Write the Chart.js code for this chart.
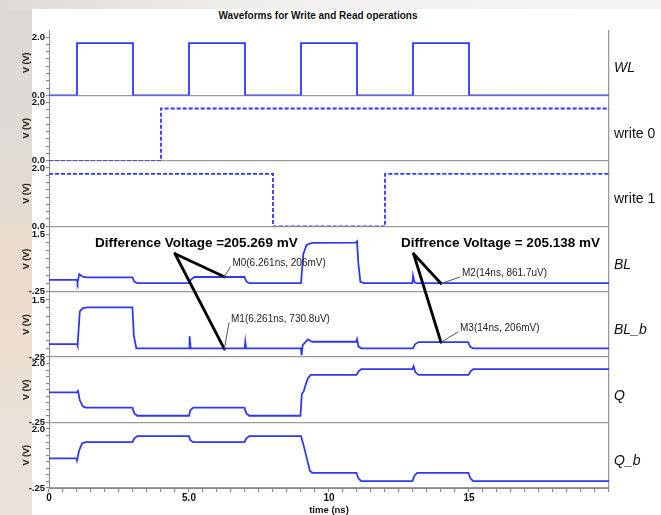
<!DOCTYPE html>
<html><head><meta charset="utf-8">
<script src="https://cdn.jsdelivr.net/npm/chart.js@4.4.0/dist/chart.umd.min.js"></script>
<style>
html,body{margin:0;padding:0;width:661px;height:515px;overflow:hidden;background:#fff;}
#bgL{position:absolute;left:0;top:0;width:32px;height:515px;background:linear-gradient(180deg,#dcd8d3 0%,#e0dbd5 30%,#eedbcb 55%,#ece0d5 75%,#e8e3dd 100%);}
#bgT{position:absolute;left:0;top:0;width:661px;height:9px;background:linear-gradient(90deg,#dedad6,#f1efed 40%,#f6f5f3 100%);}
#title{position:absolute;top:10px;left:318px;transform:translateX(-50%);font:bold 10px "Liberation Sans",Arial,sans-serif;white-space:nowrap;color:#111;}
canvas{position:absolute;left:0;top:0;}
</style></head><body>
<div id="bgL"></div><div id="bgT"></div>
<div id="title">Waveforms for Write and Read operations</div>
<canvas id="c" width="661" height="515"></canvas>
<script>
// ---- data ----
const xTickValues = [0, 5, 10, 15];
const xTickLabels = ['0', '5.0', '10', '15'];
const signalNames = ['WL', 'write 0', 'write 1', 'BL', 'BL_b', 'Q', 'Q_b'];

const wlT = [0, 1, 1, 3, 3, 5, 5, 7, 7, 9, 9, 11, 11, 13, 13, 15, 15, 20];
const wlV = [0, 0, 1.8, 1.8, 0, 0, 1.8, 1.8, 0, 0, 1.8, 1.8, 0, 0, 1.8, 1.8, 0, 0];

const write0T = [0, 4, 4, 20];
const write0V = [0, 0, 1.8, 1.8];

const write1T = [0, 8, 8, 12, 12, 20];
const write1V = [1.8, 1.8, 0, 0, 1.8, 1.8];

const blT = [0, 1.0, 1.02, 1.08, 1.2, 1.35, 2.98, 3.05, 3.15, 5.0, 5.08, 5.2, 6.98, 7.05, 7.15, 9.0, 9.08, 9.2, 9.4, 10.95, 11.0, 11.05, 11.12, 11.25, 12.98, 13.0, 13.05, 13.12, 20];
const blV = [0.11, 0.11, 0.04, 0.29, 0.21, 0.19, 0.19, 0.06, 0.01, 0.01, 0.13, 0.2, 0.2, 0.06, 0.01, 0.01, 0.9, 1.18, 1.24, 1.25, 1.29, 0.6, 0.05, 0.01, 0.01, 0.24, 0.05, 0.01, 0.01];

const blbT = [0, 1.0, 1.02, 1.1, 1.2, 1.35, 2.98, 3.03, 3.12, 5.0, 5.02, 5.06, 6.99, 7.01, 7.04, 9.0, 9.02, 9.06, 9.25, 9.4, 10.97, 11.0, 11.05, 11.15, 13.0, 13.08, 13.2, 14.97, 15.05, 15.15, 20];
const blbV = [0.15, 0.15, 0.1, 1.15, 1.24, 1.27, 1.27, 0.4, 0.02, 0.02, 0.39, 0.02, 0.02, 0.22, 0.02, 0.02, -0.19, 0.12, 0.29, 0.22, 0.22, 0.3, 0.08, 0.02, 0.02, 0.15, 0.21, 0.21, 0.06, 0.02, 0.02];

const qT = [0, 1.0, 1.03, 1.1, 1.2, 1.3, 2.98, 3.05, 3.15, 5.0, 5.05, 5.15, 6.98, 7.05, 7.15, 8.98, 9.03, 9.1, 9.15, 9.25, 9.35, 10.98, 11.05, 11.15, 12.98, 13.02, 13.08, 13.2, 14.98, 15.05, 15.15, 20];
const qV = [0.9, 0.9, 1.0, 0.6, 0.38, 0.32, 0.32, 0.1, 0.01, 0.01, 0.22, 0.32, 0.32, 0.1, 0.01, 0.01, 0.85, 0.95, 1.15, 1.45, 1.57, 1.57, 1.7, 1.79, 1.79, 1.9, 1.68, 1.57, 1.57, 1.7, 1.79, 1.79];

const qbT = [0, 0.98, 1.0, 1.08, 1.18, 1.3, 2.98, 3.05, 3.15, 5.0, 5.05, 5.15, 6.98, 7.05, 7.15, 9.0, 9.1, 9.25, 9.32, 9.4, 10.98, 11.05, 11.15, 12.98, 13.05, 13.15, 14.98, 15.05, 15.15, 20];
const qbV = [0.88, 0.88, 0.8, 1.2, 1.45, 1.5, 1.5, 1.65, 1.73, 1.73, 1.58, 1.5, 1.5, 1.65, 1.73, 1.73, 1.35, 0.7, 0.4, 0.33, 0.33, 0.12, 0.01, 0.01, 0.22, 0.33, 0.33, 0.12, 0.01, 0.01];

const logicTickValues = [0, 2];
const logicTickLabels = ['0.0', '2.0'];
const bitTickValues = [-0.25, 1.5];
const bitTickLabels = ['-.25', '1.5'];
const nodeTickValues = [-0.25, 2];
const nodeTickLabels = ['-.25', '2.0'];

const markerText = ['M0(6.261ns, 206mV)', 'M1(6.261ns, 730.8uV)', 'M2(14ns, 861.7uV)', 'M3(14ns, 206mV)'];
const markerT = [6.261, 6.261, 14, 14];
const markerV = [0.206, 0.0007308, 0.0008617, 0.206];
const markerAxis = ['yBL', 'yBLb', 'yBL', 'yBLb'];
const markerLabelT = [6.55, 6.5, 14.75, 14.68];
const markerLabelV = [0.63, 0.92, 0.32, 0.64];

const calloutText = ['Difference Voltage =205.269 mV', 'Diffrence Voltage = 205.138 mV'];
const calloutT = [1.64, 12.57];
const calloutV = [1.24, 1.24];
const calloutFromT = [4.5, 13.02];
const calloutFromV = [0.91, 0.91];
const calloutMarkers = [[0, 1], [2, 3]];

// ---- config ----
const FONT = '"Liberation Sans", Arial, sans-serif';
const panels = [
  {id: 'yWL', name: signalNames[0], t: wlT, v: wlV, min: 0, max: 2.25, tv: logicTickValues, tl: logicTickLabels, dash: [], italic: true},
  {id: 'yW0', name: signalNames[1], t: write0T, v: write0V, min: 0, max: 2.25, tv: logicTickValues, tl: logicTickLabels, dash: [4, 2], italic: false},
  {id: 'yW1', name: signalNames[2], t: write1T, v: write1V, min: 0, max: 2.25, tv: logicTickValues, tl: logicTickLabels, dash: [4, 2], italic: false},
  {id: 'yBL', name: signalNames[3], t: blT, v: blV, min: -0.25, max: 1.75, tv: bitTickValues, tl: bitTickLabels, dash: [], italic: true},
  {id: 'yBLb', name: signalNames[4], t: blbT, v: blbV, min: -0.25, max: 1.75, tv: bitTickValues, tl: bitTickLabels, dash: [], italic: true},
  {id: 'yQ', name: signalNames[5], t: qT, v: qV, min: -0.25, max: 2.25, tv: nodeTickValues, tl: nodeTickLabels, dash: [], italic: true},
  {id: 'yQb', name: signalNames[6], t: qbT, v: qbV, min: -0.25, max: 2.25, tv: nodeTickValues, tl: nodeTickLabels, dash: [], italic: true}
];

const scales = {
  x: {
    type: 'linear', position: 'bottom', min: 0, max: 20, offset: false,
    afterBuildTicks: s => { const a = []; for (let k = 0; k <= 40; k++) a.push({value: k * 0.5}); s.ticks = a; },
    afterFit: s => { s.height = 27; },
    ticks: {autoSkip: false, maxRotation: 0, minRotation: 0, padding: 0, color: '#111',
      font: {family: FONT, size: 10, weight: 'bold'},
      callback: v => { const j = xTickValues.findIndex(t => Math.abs(t - v) < 1e-6); return j >= 0 ? xTickLabels[j] : ''; }},
    grid: {drawOnChartArea: true, drawTicks: true, tickLength: 4, tickColor: '#777', tickWidth: 1,
      color: c => (c.tick && Math.abs(c.tick.value - 20) < 1e-6) ? '#9a9a9a' : 'rgba(0,0,0,0)', lineWidth: 1.3},
    border: {display: true, color: '#8a8a8a', width: 1},
    title: {display: true, text: 'time (ns)', color: '#111', font: {family: FONT, size: 9.5, weight: 'bold', lineHeight: 1}, padding: {top: 0, bottom: 0}}
  }
};
panels.forEach((p, i) => {
  const top = p.tv[p.tv.length - 1];
  scales[p.id] = {
    type: 'linear', position: 'left', stack: 'v', stackWeight: 1, weight: panels.length - i,
    min: p.min, max: p.max, offset: false,
    afterBuildTicks: s => { const a = []; for (let k = 0; ; k++) { const val = p.min + k * 0.25; if (val > top + 1e-9) break; a.push({value: Math.round(val * 1000) / 1000}); } s.ticks = a; },
    afterFit: s => { s.width = 49; },
    ticks: {autoSkip: false, padding: 1, color: '#111', font: {family: FONT, size: 9.5, weight: 'bold'},
      callback: v => { const j = p.tv.findIndex(t => Math.abs(t - v) < 1e-6); return j >= 0 ? p.tl[j] : ''; }},
    grid: {drawOnChartArea: true, drawTicks: true, tickLength: 3, tickColor: '#777', tickWidth: 1,
      color: c => (c.tick && Math.abs(c.tick.value - p.min) < 1e-6) ? '#9a9a9a' : 'rgba(0,0,0,0)', lineWidth: 1.3},
    border: {display: true, color: '#8a8a8a', width: 1},
    title: {display: true, text: 'V (V)', color: '#222', font: {family: FONT, size: 9, weight: 'bold', lineHeight: 1}, padding: {top: 22, bottom: 0}}
  };
});

const datasets = panels.map(p => ({
  label: p.name,
  data: p.t.map((t, k) => ({x: t, y: p.v[k]})),
  xAxisID: 'x', yAxisID: p.id,
  borderColor: '#3138f2', borderWidth: 1.8, borderDash: p.dash,
  pointRadius: 0, fill: false, tension: 0
}));

const decor = {
  id: 'decor',
  afterDraw(chart) {
    const ctx = chart.ctx, xs = chart.scales.x, area = chart.chartArea;
    ctx.save();
    ctx.textAlign = 'left'; ctx.textBaseline = 'middle';
    panels.forEach(p => {
      const s = chart.scales[p.id];
      ctx.font = (p.italic ? 'italic ' : '') + '14px ' + FONT;
      ctx.fillStyle = '#111';
      ctx.fillText(p.name, area.right + 5, s.bottom - 0.41 * (s.bottom - s.top));
    });
    const mp = markerT.map((t, i) => ({x: xs.getPixelForValue(t), y: chart.scales[markerAxis[i]].getPixelForValue(markerV[i])}));
    ctx.strokeStyle = '#000'; ctx.lineWidth = 2.8; ctx.lineCap = 'round';
    calloutText.forEach((txt, i) => {
      const bl = chart.scales.yBL;
      const fx = xs.getPixelForValue(calloutFromT[i]), fy = bl.getPixelForValue(calloutFromV[i]);
      calloutMarkers[i].forEach(m => { ctx.beginPath(); ctx.moveTo(fx, fy); ctx.lineTo(mp[m].x, mp[m].y); ctx.stroke(); });
    });
    ctx.lineWidth = 1; ctx.strokeStyle = '#555';
    ctx.font = '10px ' + FONT; ctx.fillStyle = '#222';
    markerText.forEach((txt, i) => {
      const s = chart.scales[markerAxis[i]];
      const lx = xs.getPixelForValue(markerLabelT[i]), ly = s.getPixelForValue(markerLabelV[i]);
      ctx.beginPath(); ctx.moveTo(mp[i].x, mp[i].y); ctx.lineTo(lx - 2, ly + 4); ctx.stroke();
      ctx.fillText(txt, lx, ly);
    });
    ctx.font = 'bold 13.5px ' + FONT; ctx.fillStyle = '#000';
    calloutText.forEach((txt, i) => {
      ctx.fillText(txt, xs.getPixelForValue(calloutT[i]), chart.scales.yBL.getPixelForValue(calloutV[i]));
    });
    ctx.restore();
  }
};

new Chart(document.getElementById('c'), {
  type: 'line',
  data: {datasets},
  options: {
    responsive: false, animation: false, devicePixelRatio: 1,
    layout: {padding: {top: 30, right: 52, left: 0, bottom: 0}},
    plugins: {legend: {display: false}, tooltip: {enabled: false}, title: {display: false}},
    scales
  },
  plugins: [decor]
});
</script></body></html>
